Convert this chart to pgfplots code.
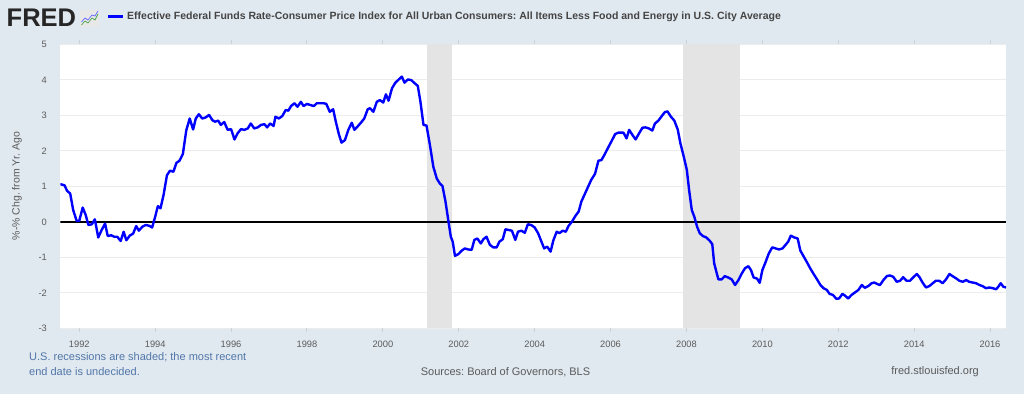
\documentclass[border=0pt]{standalone}
\usepackage{pgfplots}
\pgfplotsset{compat=1.18}
\usepackage{fontspec}
\setmainfont{Liberation Sans}
\frenchspacing
\definecolor{bgc}{HTML}{E1E9F0}
\definecolor{gridc}{HTML}{ECECEC}
\definecolor{recc}{HTML}{E4E4E4}
\definecolor{labc}{HTML}{5A5A5A}
\definecolor{titlec}{HTML}{444444}
\definecolor{notec}{HTML}{5176A8}
\definecolor{tickc}{HTML}{C8D2DC}
\definecolor{fredblue}{HTML}{0000FF}
\pgfplotstableread{
year value
1991.50 1.06
1991.61 1.03
1991.68 0.87
1991.76 0.80
1991.84 0.33
1991.93 0.03
1992.00 0.03
1992.09 0.40
1992.17 0.19
1992.24 -0.09
1992.33 -0.07
1992.41 0.07
1992.50 -0.44
1992.59 -0.23
1992.68 -0.05
1992.75 -0.40
1992.84 -0.38
1992.92 -0.42
1993.00 -0.42
1993.09 -0.54
1993.17 -0.28
1993.24 -0.52
1993.33 -0.39
1993.42 -0.33
1993.50 -0.12
1993.57 -0.25
1993.66 -0.14
1993.75 -0.09
1993.84 -0.11
1993.92 -0.16
1994.00 0.14
1994.07 0.44
1994.14 0.38
1994.22 0.75
1994.31 1.31
1994.39 1.44
1994.48 1.41
1994.56 1.66
1994.64 1.72
1994.73 1.91
1994.82 2.58
1994.91 2.91
1995.00 2.60
1995.07 2.91
1995.15 3.03
1995.24 2.91
1995.33 2.94
1995.42 3.01
1995.51 2.86
1995.58 2.82
1995.66 2.85
1995.73 2.73
1995.82 2.81
1995.91 2.59
1996.00 2.61
1996.09 2.32
1996.17 2.49
1996.26 2.61
1996.35 2.59
1996.44 2.63
1996.52 2.77
1996.61 2.63
1996.70 2.66
1996.79 2.73
1996.88 2.75
1996.95 2.66
1997.03 2.77
1997.12 2.70
1997.17 2.96
1997.26 2.91
1997.35 2.98
1997.44 3.15
1997.51 3.13
1997.58 3.26
1997.67 3.34
1997.75 3.24
1997.84 3.38
1997.91 3.26
1998.00 3.32
1998.09 3.29
1998.18 3.26
1998.26 3.34
1998.35 3.34
1998.44 3.34
1998.51 3.32
1998.60 3.10
1998.69 3.17
1998.76 2.82
1998.84 2.47
1998.91 2.23
1999.00 2.30
1999.09 2.59
1999.18 2.79
1999.25 2.59
1999.33 2.68
1999.42 2.79
1999.51 2.91
1999.60 3.17
1999.66 3.20
1999.75 3.10
1999.84 3.38
1999.92 3.43
2000.01 3.36
2000.08 3.59
2000.15 3.41
2000.24 3.76
2000.33 3.92
2000.42 4.01
2000.50 4.09
2000.57 3.92
2000.66 4.01
2000.75 3.99
2000.84 3.90
2000.92 3.83
2000.99 3.38
2001.07 2.73
2001.15 2.71
2001.24 2.16
2001.33 1.55
2001.42 1.22
2001.50 1.08
2001.57 1.01
2001.65 0.57
2001.72 0.07
2001.79 -0.42
2001.84 -0.56
2001.90 -0.96
2001.99 -0.91
2002.08 -0.81
2002.16 -0.75
2002.25 -0.78
2002.34 -0.79
2002.41 -0.51
2002.49 -0.47
2002.58 -0.61
2002.65 -0.49
2002.73 -0.42
2002.82 -0.65
2002.91 -0.72
2003.00 -0.72
2003.07 -0.56
2003.16 -0.49
2003.23 -0.21
2003.31 -0.23
2003.40 -0.25
2003.49 -0.51
2003.56 -0.28
2003.65 -0.25
2003.74 -0.31
2003.82 -0.07
2003.91 -0.09
2004.00 -0.16
2004.09 -0.32
2004.16 -0.51
2004.25 -0.75
2004.33 -0.70
2004.42 -0.84
2004.49 -0.53
2004.58 -0.28
2004.65 -0.32
2004.74 -0.25
2004.82 -0.28
2004.89 -0.12
2004.98 0.00
2005.07 0.16
2005.16 0.29
2005.23 0.57
2005.32 0.78
2005.40 0.97
2005.49 1.18
2005.59 1.35
2005.68 1.72
2005.76 1.74
2005.85 1.91
2005.94 2.10
2006.03 2.28
2006.12 2.47
2006.20 2.51
2006.29 2.51
2006.34 2.51
2006.42 2.35
2006.49 2.59
2006.58 2.44
2006.66 2.32
2006.75 2.49
2006.84 2.65
2006.92 2.66
2007.01 2.63
2007.10 2.57
2007.17 2.77
2007.26 2.85
2007.35 2.98
2007.43 3.09
2007.50 3.11
2007.59 2.96
2007.68 2.85
2007.77 2.60
2007.84 2.21
2007.93 1.83
2008.01 1.46
2008.07 0.89
2008.14 0.33
2008.21 0.13
2008.28 -0.14
2008.35 -0.32
2008.43 -0.40
2008.52 -0.44
2008.61 -0.53
2008.68 -0.63
2008.73 -1.17
2008.84 -1.62
2008.93 -1.62
2009.01 -1.53
2009.10 -1.57
2009.19 -1.62
2009.28 -1.78
2009.37 -1.64
2009.45 -1.47
2009.54 -1.31
2009.63 -1.25
2009.70 -1.36
2009.77 -1.57
2009.86 -1.60
2009.93 -1.72
2010.00 -1.36
2010.09 -1.12
2010.17 -0.89
2010.26 -0.72
2010.35 -0.75
2010.44 -0.78
2010.53 -0.75
2010.61 -0.65
2010.68 -0.56
2010.75 -0.39
2010.84 -0.44
2010.93 -0.47
2011.00 -0.81
2011.09 -0.98
2011.18 -1.15
2011.26 -1.31
2011.35 -1.47
2011.44 -1.62
2011.53 -1.78
2011.61 -1.87
2011.70 -1.92
2011.77 -2.03
2011.86 -2.06
2011.95 -2.17
2012.02 -2.16
2012.11 -2.03
2012.19 -2.09
2012.26 -2.16
2012.35 -2.06
2012.44 -1.99
2012.53 -1.92
2012.62 -1.78
2012.70 -1.86
2012.79 -1.81
2012.88 -1.73
2012.95 -1.71
2013.04 -1.76
2013.10 -1.78
2013.19 -1.64
2013.28 -1.53
2013.36 -1.51
2013.45 -1.55
2013.54 -1.69
2013.63 -1.66
2013.71 -1.56
2013.80 -1.66
2013.89 -1.66
2013.98 -1.56
2014.07 -1.47
2014.14 -1.56
2014.22 -1.71
2014.31 -1.85
2014.40 -1.81
2014.49 -1.73
2014.57 -1.66
2014.66 -1.66
2014.75 -1.73
2014.84 -1.62
2014.93 -1.47
2015.01 -1.53
2015.10 -1.59
2015.19 -1.66
2015.28 -1.69
2015.37 -1.64
2015.45 -1.69
2015.54 -1.71
2015.63 -1.73
2015.72 -1.78
2015.80 -1.81
2015.89 -1.87
2015.98 -1.85
2016.07 -1.87
2016.16 -1.90
2016.23 -1.81
2016.28 -1.73
2016.35 -1.83
2016.42 -1.85
}\datatable
\begin{document}
\begin{tikzpicture}
\begin{scope}[x=1pt,y=1pt]
\fill[bgc] (0,0) rectangle (1024,394);
\useasboundingbox (0,0) rectangle (1024,394);
% header
\node[anchor=base west, inner sep=0, font=\bfseries\fontsize{25.5}{26}\selectfont, text=black!85] at (6.5,367) {FRED};
\fill[gray!18, rounded corners=1pt] (80,367) rectangle (99,384);
\draw[green!50!black!70, line width=0.7pt] (81.5,369) -- (85,373) -- (88,371) -- (92,376) -- (95,374) -- (98,380);
\draw[blue!60, line width=0.7pt] (81.5,372) -- (85,376) -- (88,374) -- (92,379) -- (95,378) -- (98,383);
\draw[fredblue, line width=3pt] (108,377.3) -- (123,377.3);
\node[anchor=west, inner sep=0, font=\bfseries\fontsize{10.5}{12}\selectfont, text=titlec] at (127,377.3) {Effective Federal Funds Rate-Consumer Price Index for All Urban Consumers: All Items Less Food and Energy in U.S. City Average};
% y label
\node[rotate=90, inner sep=0, font=\fontsize{10.5}{12}\selectfont, text=labc] at (17,208) {\%-\% Chg. from Yr. Ago};
% footer
\node[anchor=west, inner sep=0, font=\fontsize{11}{13}\selectfont, text=notec] at (29,37) {U.S. recessions are shaded; the most recent};
\node[anchor=west, inner sep=0, font=\fontsize{11}{13}\selectfont, text=notec] at (29,22) {end date is undecided.};
\node[inner sep=0, font=\fontsize{11}{13}\selectfont, text=labc] at (505.5,22) {Sources: Board of Governors, BLS};
\node[anchor=east, inner sep=0, font=\fontsize{11}{13}\selectfont, text=labc] at (979,22) {fred.stlouisfed.org};
\end{scope}
\begin{axis}[
  at={(60.3pt,65.7pt)}, anchor=south west, scale only axis,
  width=945.7pt, height=284pt,
  xmin=1991.5, xmax=2016.42, ymin=-3, ymax=5,
  axis background/.style={fill=white},
  axis line style={draw=none},
  ymajorgrids, grid style={color=gridc, line width=1.2pt},
  ytick={-3,-2,-1,0,1,2,3,4,5},
  yticklabels={-3,-2,-1,0,1,2,3,4,5},
  xtick={1992,1994,1996,1998,2000,2002,2004,2006,2008,2010,2012,2014,2016},
  xticklabels={1992,1994,1996,1998,2000,2002,2004,2006,2008,2010,2012,2014,2016},
  tick align=outside, major tick length=4pt,
  ytick style={draw=none},
  xtick style={draw=tickc, line width=1pt},
  ticklabel style={font=\fontsize{9.3}{10}\selectfont, text=labc},
  yticklabel style={xshift=-6pt},
  xticklabel style={yshift=-5pt},
]
\fill[recc] (axis cs:2001.17,-3) rectangle (axis cs:2001.83,5);
\fill[recc] (axis cs:2007.92,-3) rectangle (axis cs:2009.42,5);
\draw[black, line width=1.6pt] (axis cs:1991.5,0) -- (axis cs:2016.42,0);
\addplot[color=fredblue, line width=2.4pt, line join=round, mark=none] table[x=year, y=value] {\datatable};
\end{axis}
\end{tikzpicture}
\end{document}
